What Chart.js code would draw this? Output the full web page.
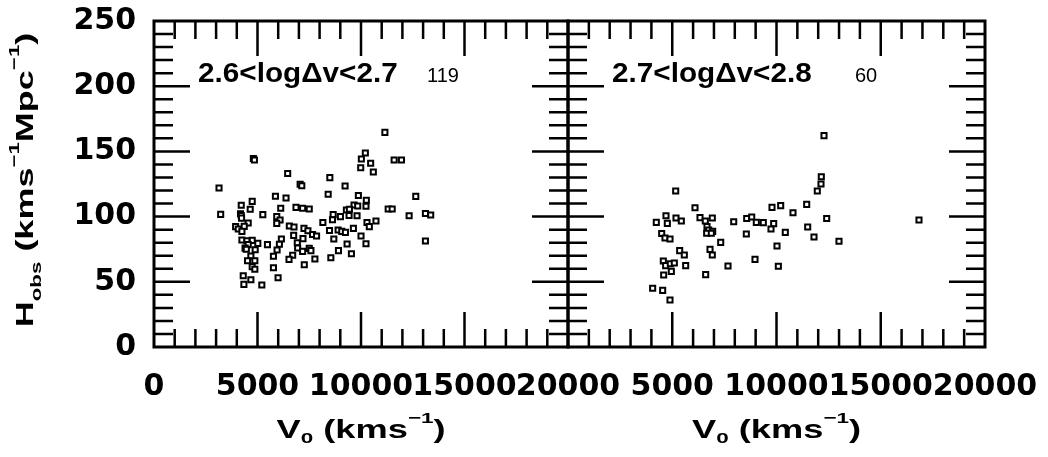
<!DOCTYPE html>
<html>
<head>
<meta charset="utf-8">
<script src="https://cdn.jsdelivr.net/npm/chart.js@4.4.0/dist/chart.umd.min.js"></script>
<style>
body { margin: 0; background: #fff; width: 1048px; height: 457px; overflow: hidden; position: relative; }
canvas { position: absolute; top: 0; }
#left { left: 0; }
#right { left: 500px; }
</style>
</head>
<body>
<canvas id="left" width="640" height="457"></canvas>
<canvas id="right" width="548" height="457"></canvas>
<script>
// axis ranges and labelled ticks
var xTicks = [0, 5000, 10000, 15000, 20000];
var yTicks = [0, 50, 100, 150, 200, 250];

// panel 1 : 2.6 < log dv < 2.7
var leftV0 = [11154, 10210, 10018, 10466, 9986, 10595, 4800, 4850, 6458, 7060, 7140, 8495, 9231, 3141, 8414,
  5866, 6378, 4744, 9873, 10258, 4215, 4648, 6122, 6859, 7180, 7500, 9665, 9841, 10241, 9295, 9440,
  3221, 4180, 4215, 4230, 5257, 5930, 6090, 5930, 8655, 8623, 9006, 9424, 9809, 8158, 10290, 10723,
  10402, 4551, 4359, 3943, 4071, 4247, 6538, 6763, 7244, 7436, 7660, 7853, 8479, 8895, 9071, 9247,
  9633, 10001, 10241, 9328, 8687, 8911, 9537, 8543, 6747, 7196, 6923, 6939, 7180, 7500, 7580, 7773,
  6699, 6522, 7260, 6154, 6058, 5946, 5770, 5770, 5994, 5481, 5016, 4744, 4247, 4487, 4551, 4400,
  4460, 4888, 4680, 4519, 4872, 4744, 4872, 4311, 4343, 4680, 5209,
  11601, 11954, 12646, 11313, 11506, 12325, 13112, 13367, 13112];
var leftH = [164.6, 148.8, 144.2, 140.9, 137.5, 134.2, 144.6, 143.4, 133.1, 124.8, 123.6, 129.9, 123.5, 121.9, 117.1,
  115.6, 114.3, 111.7, 116.2, 112.5, 108.7, 105.6, 106.4, 107.1, 106.4, 105.8, 108.9, 108.1, 107.9, 105.1, 105.6,
  101.7, 102.2, 100.9, 98.8, 101.5, 100.0, 97.4, 94.8, 101.5, 97.6, 100.0, 100.9, 100.7, 95.5, 95.5, 96.6,
  92.3, 95.1, 92.5, 92.3, 90.5, 88.7, 92.8, 92.0, 91.0, 89.2, 86.3, 85.1, 89.4, 89.7, 88.7, 87.9,
  91.0, 85.1, 79.2, 79.0, 82.8, 73.9, 71.5, 68.5, 85.6, 83.1, 80.0, 75.9, 73.3, 75.6, 73.9, 67.5,
  70.3, 67.2, 63.1, 82.8, 78.8, 74.4, 69.6, 60.8, 53.1, 78.5, 79.5, 81.8, 82.1, 81.5, 78.5, 75.8,
  75.0, 74.6, 69.8, 66.2, 66.2, 61.6, 59.6, 54.7, 48.0, 51.6, 47.5,
  143.4, 143.4, 115.5, 105.8, 105.8, 100.7, 102.4, 101.2, 81.3];

// panel 2 : 2.7 < log dv < 2.8
var rightV0 = [5165, 6091, 4700, 4235, 4764, 5180, 5435, 6331, 6586, 6921, 6667, 6747, 6939, 6651, 6874,
  7948, 8571, 8811, 9032, 8552, 4493, 4652, 4892, 7324, 5356, 5579, 6811, 6921, 4572, 4684,
  4908, 5100, 5644, 7674, 8969, 4956, 4588, 6603, 4060, 4540, 4892,
  12278, 12149, 12134, 11957, 11448, 9784, 10201, 10791, 9367, 9865, 9736, 10422, 11496, 12407,
  11798, 12997, 10024, 10088, 16834];
var rightH = [119.6, 106.8, 100.7, 95.6, 94.8, 98.9, 96.6, 99.2, 96.6, 98.9, 92.3, 89.7, 88.7, 87.2, 87.2,
  96.1, 98.5, 99.7, 95.6, 86.7, 87.0, 83.6, 82.8, 80.2, 73.9, 70.6, 74.9, 70.6, 65.9, 62.4,
  63.9, 64.4, 62.4, 62.1, 67.2, 58.0, 55.2, 55.5, 45.0, 43.4, 36.0,
  162.1, 130.6, 125.0, 119.6, 109.4, 107.1, 108.4, 103.0, 95.4, 94.6, 90.5, 87.9, 92.0, 98.6,
  84.4, 81.1, 77.5, 61.9, 97.4];

var FONT = '"Liberation Sans", Arial, sans-serif';

// inward ticks on all four sides plus the box
var framePlugin = {
  id: 'frame',
  afterDatasetsDraw: function(chart) {
    var ctx = chart.ctx, a = chart.chartArea;
    var sx = chart.scales.x, sy = chart.scales.y;
    ctx.save();
    ctx.strokeStyle = '#000';
    ctx.lineWidth = 2.5;
    ctx.beginPath();
    for (var v = 1000; v < 20000; v += 1000) {
      var px = sx.getPixelForValue(v);
      var len = v % 5000 === 0 ? 35 : 18;
      ctx.moveTo(px, a.bottom); ctx.lineTo(px, a.bottom - len);
      ctx.moveTo(px, a.top); ctx.lineTo(px, a.top + len);
    }
    for (var w = 10; w < 250; w += 10) {
      var py = sy.getPixelForValue(w);
      var l2 = w % 50 === 0 ? 36 : 19;
      ctx.moveTo(a.left, py); ctx.lineTo(a.left + l2, py);
      ctx.moveTo(a.right, py); ctx.lineTo(a.right - l2, py);
    }
    ctx.stroke();
    ctx.lineWidth = 3;
    ctx.strokeRect(a.left, a.top, a.right - a.left, a.bottom - a.top);
    ctx.restore();
  }
};

// text with sub/superscripts, stretched horizontally
function drawRich(ctx, parts, size, stretch) {
  var small = size * 0.62, total = 0, i;
  for (i = 0; i < parts.length; i++) {
    ctx.font = 'bold ' + (parts[i][1] ? small : size) + 'px ' + FONT;
    parts[i].w = ctx.measureText(parts[i][0]).width;
    total += parts[i].w;
  }
  ctx.save();
  ctx.scale(stretch, 1);
  ctx.textBaseline = 'alphabetic';
  ctx.textAlign = 'left';
  var x = -total / 2;
  for (i = 0; i < parts.length; i++) {
    var p = parts[i];
    ctx.font = 'bold ' + (p[1] ? small : size) + 'px ' + FONT;
    var dy = p[1] === 1 ? size * 0.2 : p[1] === 3 ? size * 0.35 : p[1] === 2 ? -size * 0.6 : 0;
    ctx.fillText(p[0], x, dy);
    x += p.w;
  }
  ctx.restore();
}

var xTitle = [['V', 0], ['0', 1], [' (kms', 0], ['\u22121', 2], [')', 0]];
var yTitle = [['H', 0], ['obs', 3], [' (kms', 0], ['\u22121', 2], ['Mpc', 0], ['\u22121', 2], [')', 0]];

var textPlugin = {
  id: 'texts',
  afterDraw: function(chart) {
    var ctx = chart.ctx, a = chart.chartArea, o = chart.options.plugins.texts;
    ctx.save();
    ctx.fillStyle = '#000';
    // panel label
    ctx.save();
    ctx.translate(a.left + 44, 82);
    ctx.scale(1.1, 1);
    ctx.font = 'bold 27px ' + FONT;
    ctx.textBaseline = 'alphabetic';
    ctx.fillText(o.label, 0, 0);
    ctx.restore();
    ctx.font = '20px ' + FONT;
    ctx.fillText(o.count, a.left + o.countX, 82);
    // x title
    ctx.save();
    ctx.translate((a.left + a.right) / 2, 438);
    drawRich(ctx, xTitle, 25, 1.45);
    ctx.restore();
    // y title
    if (o.yTitle) {
      ctx.save();
      ctx.translate(33, 180);
      ctx.rotate(-Math.PI / 2);
      drawRich(ctx, yTitle, 24, 1.5);
      ctx.restore();
    }
    ctx.restore();
  }
};

function noPad(s) {
  s.paddingTop = 0; s.paddingBottom = 0; s.paddingLeft = 0; s.paddingRight = 0;
}

function makeChart(id, v0, h, cfg) {
  var pts = v0.map(function(v, i) { return { x: v, y: h[i] }; });
  return new Chart(id, {
    type: 'scatter',
    data: {
      datasets: [{
        data: pts,
        pointStyle: 'rect',
        pointRadius: 3.6,
        pointHoverRadius: 3.6,
        pointBorderWidth: 2,
        pointBackgroundColor: '#fff',
        pointBorderColor: '#000'
      }]
    },
    options: {
      responsive: false,
      animation: false,
      events: [],
      layout: { padding: { top: 21, right: cfg.padRight, bottom: 0, left: 0 } },
      plugins: {
        legend: { display: false },
        tooltip: { enabled: false },
        texts: { label: cfg.label, count: cfg.count, countX: cfg.countX, yTitle: cfg.yTitle }
      },
      scales: {
        x: {
          type: 'linear', min: 0, max: 20000,
          grid: { display: false, drawTicks: false },
          border: { display: false },
          afterBuildTicks: function(s) { s.ticks = xTicks.map(function(v) { return { value: v }; }); },
          afterFit: function(s) { s.height = 110; noPad(s); },
          ticks: {
            autoSkip: false, maxRotation: 0, padding: 22, color: '#000',
            font: { family: 'DejaVu Sans', weight: 'bold', size: 30 },
            callback: function(v) { return (cfg.hideZero && v === 0) ? '' : String(v); }
          }
        },
        y: {
          type: 'linear', min: 0, max: 250,
          grid: { display: false, drawTicks: false },
          border: { display: false },
          afterBuildTicks: function(s) { s.ticks = yTicks.map(function(v) { return { value: v }; }); },
          afterFit: function(s) { s.width = cfg.yWidth; noPad(s); },
          ticks: {
            display: cfg.yLabels, padding: 18, color: '#000',
            font: { family: 'DejaVu Sans', weight: 'bold', size: 30 }
          }
        }
      }
    },
    plugins: [framePlugin, textPlugin]
  });
}

makeChart('left', leftV0, leftH, {
  padRight: 72, yWidth: 154, yLabels: true, hideZero: false,
  label: '2.6<log\u0394v<2.7', count: '119', countX: 273, yTitle: true
});
makeChart('right', rightV0, rightH, {
  padRight: 63, yWidth: 68, yLabels: false, hideZero: true,
  label: '2.7<log\u0394v<2.8', count: '60', countX: 287, yTitle: false
});
</script>
</body>
</html>
